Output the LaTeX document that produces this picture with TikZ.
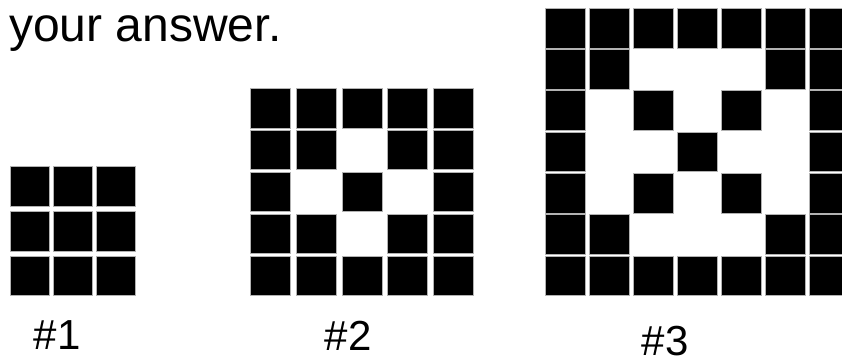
\documentclass[tikz,border=0pt]{standalone}
\usepackage{fontspec}
\setmainfont{Liberation Sans}
\usepackage{tikz}
\usetikzlibrary{positioning,calc}

\begin{document}
\begin{tikzpicture}[
    x=0.75pt, y=-0.75pt,
    cell/.style={draw=gray!60, fill=black, line width=0.6pt},
    title/.style={inner sep=0pt, font=\fontsize{36}{40}\selectfont},
    tag/.style={inner sep=0pt, anchor=base, font=\fontsize{31.5}{36}\selectfont}
]
\useasboundingbox (0,0) rectangle (842,356);

% Heading
\node[title, anchor=base west] (head) at (9,41.7) {your answer.};

% Pattern #1
\foreach \r in {0,1,2}
  \foreach \c in {0,1,2}
    \draw[cell] (10+\c*43, 166.7+\r*44.7) rectangle ++(39.5,39.5);
\node[tag] (t1) at (57.3,349.3) {\#1};

% Pattern #2
\foreach \r/\cols in {0/{0,1,2,3,4}, 1/{0,1,3,4}, 2/{0,2,4}, 3/{0,1,3,4}, 4/{0,1,2,3,4}}
  \foreach \c in \cols
    \draw[cell] (250.7+\c*45.6, 88.3+\r*41.9) rectangle ++(40,39.7);
\node[tag] (t2) at (348.3,350.5) {\#2};

% Pattern #3
\foreach \r/\cols in {0/{0,1,2,3,4,5,6}, 1/{0,1,5,6}, 2/{0,2,4,6}, 3/{0,3,6},
                      4/{0,2,4,6}, 5/{0,1,5,6}, 6/{0,1,2,3,4,5,6}}
  \foreach \c in \cols
    \draw[cell] (545.3+\c*44, 8.3+\r*41.3) rectangle ++(39.7,39.7);
\node[tag] (t3) at (665,355.5) {\#3};

\end{tikzpicture}
\end{document}
